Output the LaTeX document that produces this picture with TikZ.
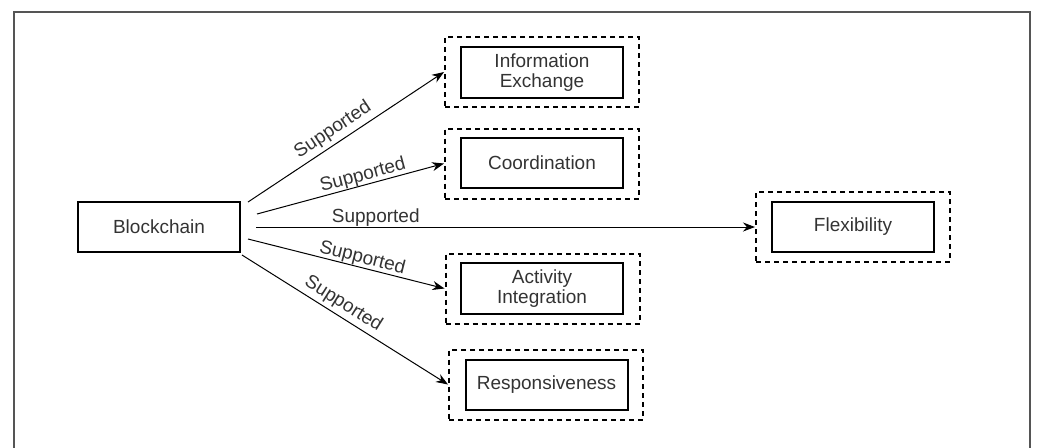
\documentclass[tikz,border=0pt]{standalone}
\usepackage{fontspec}
\setmainfont{Liberation Sans}
\usetikzlibrary{arrows.meta}
\definecolor{txtgray}{HTML}{333333}
\definecolor{framegray}{HTML}{555555}
\tikzset{
	inbox/.style={draw=black, line width=1pt, minimum width=81pt, minimum height=25pt, align=center, text=txtgray, font=\fontsize{9.5}{10}\selectfont},
	outbox/.style={draw=black, dash pattern=on 2.5pt off 2pt, line width=1pt, minimum width=97pt, minimum height=35pt},
	supp/.style={-{Stealth[length=6pt,width=4.5pt]}, line width=0.5pt},
	lbl/.style={sloped, inner sep=0pt, text=txtgray, font=\fontsize{9.5}{10}\selectfont}
}
\begin{document}
\begin{tikzpicture}[x=0.5pt,y=-0.5pt]
	\useasboundingbox (0,0) rectangle (1037,447);
	\draw[line width=1pt, color=framegray] (14,460) -- (14,12) -- (1030,12) -- (1030,460);
	% outer dashed frames
	\node[outbox] (infoOut) at (542,72) {};
	\node[outbox] (coordOut) at (542,163.5) {};
	\node[outbox] (flexOut) at (853,227) {};
	\node[outbox] (actOut) at (542.5,288.5) {};
	\node[outbox] (respOut) at (546,384.5) {};
	% boxes
	\node[inbox] (block) at (159,227) {Blockchain};
	\node[inbox] (info) at (542,72.5) {Information\\Exchange};
	\node[inbox] (coord) at (542,162.5) {Coordination};
	\node[inbox] (flex) at (853,227) {Flexibility};
	\node[inbox] (act) at (542,288.5) {Activity\\Integration};
	\node[inbox] (resp) at (546.5,384.5) {Responsiveness};
	% arrow starts
	\coordinate (s1) at (248,202);
	\coordinate (s2) at (257,214);
	\coordinate (s3) at (256,227);
	\coordinate (s4) at (248,239);
	\coordinate (s5) at (242,255);
	\draw[supp] (s1) -- node[lbl, pos=0.47, above=1.8pt] {Supported} (infoOut.west);
	\draw[supp] (s2) -- node[lbl, pos=0.58, above=0pt] {Supported} (coordOut.west);
	\draw[supp] (s3) -- node[lbl, pos=0.24, above=0pt] {Supported} (flexOut.west);
	\draw[supp] (s4) -- node[lbl, pos=0.57, above=0pt] {Supported} (actOut.west);
	\draw[supp] (s5) -- node[lbl, pos=0.46, above=1.5pt] {Supported} (respOut.west);
\end{tikzpicture}
\end{document}
